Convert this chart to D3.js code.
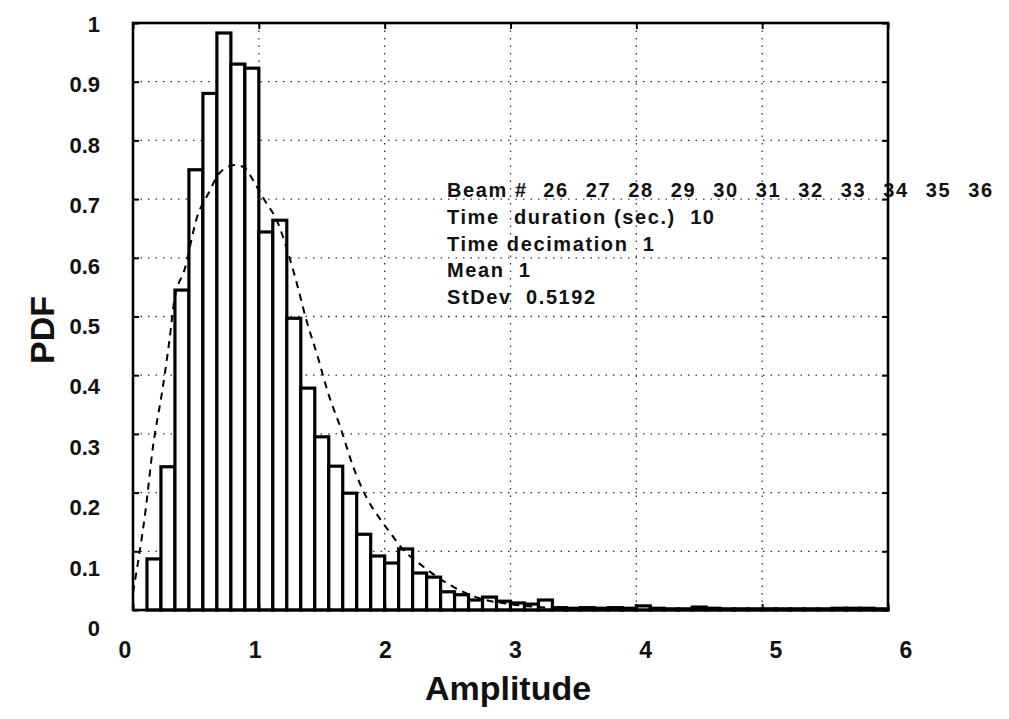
<!DOCTYPE html>
<html>
<head>
<meta charset="utf-8">
<script src="https://cdn.jsdelivr.net/npm/d3@7"></script>
<style>
  body { margin: 0; background: #fff; }
  text { font-family: "Liberation Sans", Arial, sans-serif; font-weight: bold; fill: #111; }
</style>
</head>
<body>
<div id="chart"></div>
<script>
var width = 1009;
var height = 719;

// histogram heights, one per bin of width 1/9 from 0 to 6
var pdfValues = [0, 0.087, 0.244, 0.545, 0.75, 0.88, 0.983, 0.93, 0.923,
  0.644, 0.664, 0.497, 0.378, 0.295, 0.245, 0.199, 0.129, 0.092,
  0.08, 0.104, 0.063, 0.056, 0.031, 0.026, 0.017, 0.022, 0.015,
  0.012, 0.01, 0.017, 0.004, 0.003, 0.004, 0.003, 0.004, 0.003,
  0.007, 0.003, 0.002, 0.002, 0.005, 0.003, 0.002, 0.002, 0.002,
  0.002, 0.002, 0.002, 0.002, 0.002, 0.003, 0.003, 0.003, 0.002];
var binWidth = 1 / 9;

// dashed fitted curve
var curveX = [0, 0.1, 0.16, 0.23, 0.29, 0.33, 0.41, 0.51, 0.6, 0.69, 0.81, 0.89,
  0.96, 1.04, 1.15, 1.23, 1.31, 1.37, 1.47, 1.55, 1.65, 1.75, 1.86, 1.97,
  2.05, 2.13, 2.3, 2.5, 2.75, 3.0, 3.5, 4.0];
var curveY = [0.03, 0.17, 0.28, 0.37, 0.46, 0.53, 0.58, 0.67, 0.71, 0.745, 0.758, 0.753,
  0.73, 0.7, 0.66, 0.61, 0.55, 0.5, 0.43, 0.37, 0.31, 0.244, 0.19, 0.153,
  0.13, 0.107, 0.075, 0.045, 0.02, 0.01, 0.002, 0];

var xTicks = [0, 1, 2, 3, 4, 5, 6];
var yTicks = [0, 0.1, 0.2, 0.3, 0.4, 0.5, 0.6, 0.7, 0.8, 0.9, 1];
var yTickLabels = ["0", "0.1", "0.2", "0.3", "0.4", "0.5", "0.6", "0.7", "0.8", "0.9", "1"];

var beams = [26, 27, 28, 29, 30, 31, 32, 33, 34, 35, 36];
var infoLines = ["Time  duration (sec.)  10", "Time decimation  1", "Mean  1", "StDev  0.5192"];

var plotLeft = 133, plotRight = 888, plotTop = 23, plotBottom = 610;

var svg = d3.select("#chart")
  .append("svg")
  .attr("width", width)
  .attr("height", height);

var xScale = d3.scaleLinear().domain([0, 6]).range([plotLeft, plotRight]);
var yScale = d3.scaleLinear().domain([0, 1]).range([plotBottom, plotTop]);

// the scanned tick labels drift slightly from the grid, so they get their own scales
var xLabelScale = d3.scaleLinear().domain([0, 6]).range([125, 906]);
var yLabelScale = d3.scaleLinear().domain([0, 1]).range([628, 24]);

// dotted grid
var grid = svg.append("g")
  .attr("stroke", "#333")
  .attr("stroke-width", 1.3)
  .attr("stroke-dasharray", "1.5,6");

grid.selectAll("line.gx")
  .data(xTicks.slice(1, -1))
  .enter()
  .append("line")
  .attr("x1", function(d) { return xScale(d); })
  .attr("x2", function(d) { return xScale(d); })
  .attr("y1", plotTop)
  .attr("y2", plotBottom);

grid.selectAll("line.gy")
  .data(yTicks.slice(1, -1))
  .enter()
  .append("line")
  .attr("y1", function(d) { return yScale(d); })
  .attr("y2", function(d) { return yScale(d); })
  .attr("x1", plotLeft)
  .attr("x2", plotRight);

// bars
svg.append("g")
  .selectAll("rect")
  .data(pdfValues)
  .enter()
  .append("rect")
  .attr("x", function(d, i) { return xScale(i * binWidth); })
  .attr("width", function(d, i) { return xScale((i + 1) * binWidth) - xScale(i * binWidth); })
  .attr("y", function(d) { return yScale(d); })
  .attr("height", function(d) { return yScale(0) - yScale(d); })
  .attr("fill", "#fff")
  .attr("stroke", "#000")
  .attr("stroke-width", 3.2);

// fitted curve
var line = d3.line()
  .x(function(d, i) { return xScale(curveX[i]); })
  .y(function(d) { return yScale(d); })
  .curve(d3.curveMonotoneX);

svg.append("path")
  .attr("d", line(curveY))
  .attr("fill", "none")
  .attr("stroke", "#000")
  .attr("stroke-width", 2)
  .attr("stroke-dasharray", "7,6");

// frame
svg.append("rect")
  .attr("x", plotLeft)
  .attr("y", plotTop)
  .attr("width", plotRight - plotLeft)
  .attr("height", plotBottom - plotTop)
  .attr("fill", "none")
  .attr("stroke", "#000")
  .attr("stroke-width", 2.6);

// inward ticks on all four sides
var xAxisBottom = d3.axisBottom(xScale).tickValues(xTicks).tickSize(-6).tickFormat("");
var xAxisTop = d3.axisTop(xScale).tickValues(xTicks).tickSize(-6).tickFormat("");
var yAxisLeft = d3.axisLeft(yScale).tickValues(yTicks).tickSize(-6).tickFormat("");
var yAxisRight = d3.axisRight(yScale).tickValues(yTicks).tickSize(-6).tickFormat("");

svg.append("g").attr("transform", "translate(0," + plotBottom + ")").call(xAxisBottom);
svg.append("g").attr("transform", "translate(0," + plotTop + ")").call(xAxisTop);
svg.append("g").attr("transform", "translate(" + plotLeft + ",0)").call(yAxisLeft);
svg.append("g").attr("transform", "translate(" + plotRight + ",0)").call(yAxisRight);

svg.selectAll(".domain").remove();
svg.selectAll(".tick line").attr("stroke", "#000").attr("stroke-width", 2);

// tick labels
svg.append("g")
  .selectAll("text")
  .data(xTicks)
  .enter()
  .append("text")
  .attr("x", function(d) { return xLabelScale(d); })
  .attr("y", 658)
  .attr("text-anchor", "middle")
  .style("font-size", "23px")
  .text(function(d) { return d; });

svg.append("g")
  .selectAll("text")
  .data(yTicks)
  .enter()
  .append("text")
  .attr("x", 100)
  .attr("y", function(d) { return yLabelScale(d) + 8; })
  .attr("text-anchor", "end")
  .style("font-size", "22px")
  .text(function(d, i) { return yTickLabels[i]; });

// axis titles
svg.append("text")
  .attr("x", 508)
  .attr("y", 700)
  .attr("text-anchor", "middle")
  .style("font-size", "34px")
  .text("Amplitude");

svg.append("text")
  .attr("transform", "translate(54,330)rotate(-90)")
  .attr("text-anchor", "middle")
  .style("font-size", "34px")
  .text("PDF");

// annotation block
var info = svg.append("g")
  .style("font-size", "20px")
  .style("letter-spacing", "1.6px");

info.append("text")
  .attr("x", 447)
  .attr("y", 197)
  .text("Beam #");

var beamScale = d3.scalePoint().domain(beams).range([556, 981]);

info.selectAll("text.beam")
  .data(beams)
  .enter()
  .append("text")
  .attr("class", "beam")
  .attr("x", function(d) { return beamScale(d); })
  .attr("y", 197)
  .attr("text-anchor", "middle")
  .text(function(d) { return d; });

info.selectAll("text.line")
  .data(infoLines)
  .enter()
  .append("text")
  .attr("class", "line")
  .attr("x", 447)
  .attr("y", function(d, i) { return 224 + i * 26.5; })
  .attr("xml:space", "preserve")
  .style("white-space", "pre")
  .text(function(d) { return d; });
</script>
</body>
</html>
